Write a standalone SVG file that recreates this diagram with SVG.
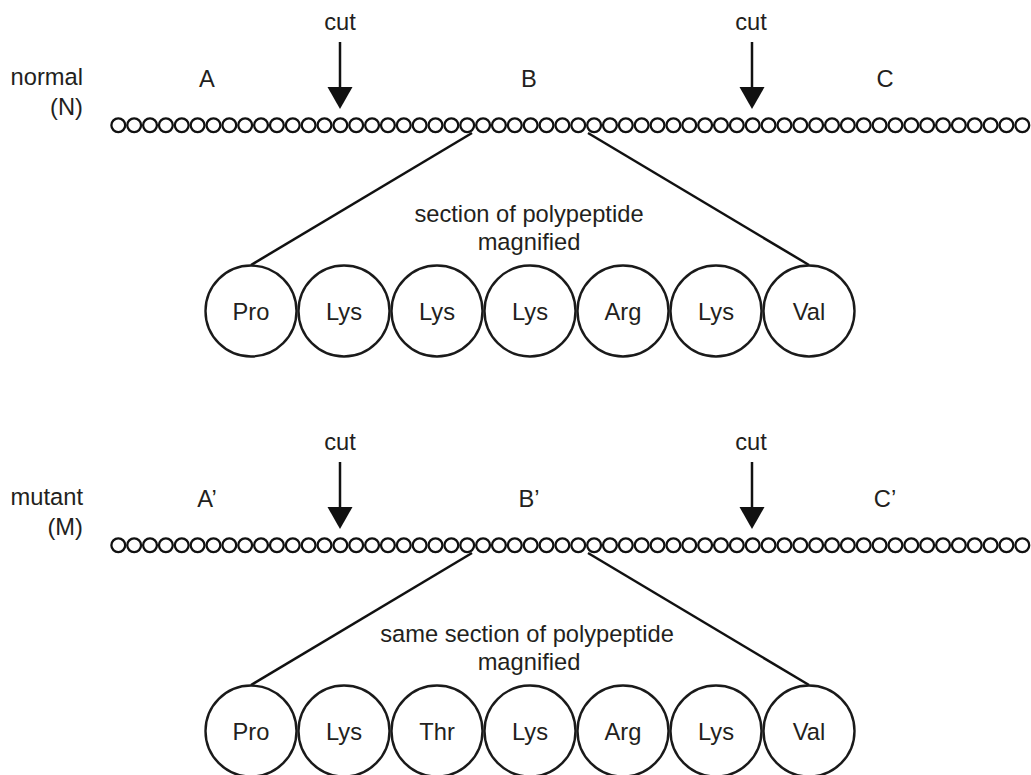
<svg xmlns="http://www.w3.org/2000/svg" xmlns:xlink="http://www.w3.org/1999/xlink" width="1031" height="775" viewBox="0 0 1031 775">
<style>
text{font-family:"Liberation Sans",Arial,sans-serif;font-size:23.7px;fill:#231f20}
.m{text-anchor:middle}
.e{text-anchor:end}
.bead{fill:none;stroke:#111;stroke-width:2.3}
.aa{fill:#fff;stroke:#1a1a1a;stroke-width:2.4}
.ln{stroke:#111;stroke-width:2.5;fill:none}
.head{fill:#111}
</style>
<defs>
<circle id="b" r="6.9" class="bead"/>
<g id="chain">
<use xlink:href="#b" x="118.3"/><use xlink:href="#b" x="134.16"/><use xlink:href="#b" x="150.02"/><use xlink:href="#b" x="165.88"/><use xlink:href="#b" x="181.74"/><use xlink:href="#b" x="197.6"/><use xlink:href="#b" x="213.46"/><use xlink:href="#b" x="229.32"/><use xlink:href="#b" x="245.18"/><use xlink:href="#b" x="261.04"/>
<use xlink:href="#b" x="276.9"/><use xlink:href="#b" x="292.76"/><use xlink:href="#b" x="308.62"/><use xlink:href="#b" x="324.48"/><use xlink:href="#b" x="340.34"/><use xlink:href="#b" x="356.2"/><use xlink:href="#b" x="372.06"/><use xlink:href="#b" x="387.92"/><use xlink:href="#b" x="403.78"/><use xlink:href="#b" x="419.64"/>
<use xlink:href="#b" x="435.5"/><use xlink:href="#b" x="451.36"/><use xlink:href="#b" x="467.22"/><use xlink:href="#b" x="483.08"/><use xlink:href="#b" x="498.94"/><use xlink:href="#b" x="514.8"/><use xlink:href="#b" x="530.66"/><use xlink:href="#b" x="546.52"/><use xlink:href="#b" x="562.38"/><use xlink:href="#b" x="578.24"/>
<use xlink:href="#b" x="594.1"/><use xlink:href="#b" x="609.96"/><use xlink:href="#b" x="625.82"/><use xlink:href="#b" x="641.68"/><use xlink:href="#b" x="657.54"/><use xlink:href="#b" x="673.4"/><use xlink:href="#b" x="689.26"/><use xlink:href="#b" x="705.12"/><use xlink:href="#b" x="720.98"/><use xlink:href="#b" x="736.84"/>
<use xlink:href="#b" x="752.7"/><use xlink:href="#b" x="768.56"/><use xlink:href="#b" x="784.42"/><use xlink:href="#b" x="800.28"/><use xlink:href="#b" x="816.14"/><use xlink:href="#b" x="832"/><use xlink:href="#b" x="847.86"/><use xlink:href="#b" x="863.72"/><use xlink:href="#b" x="879.58"/><use xlink:href="#b" x="895.44"/>
<use xlink:href="#b" x="911.3"/><use xlink:href="#b" x="927.16"/><use xlink:href="#b" x="943.02"/><use xlink:href="#b" x="958.88"/><use xlink:href="#b" x="974.74"/><use xlink:href="#b" x="990.6"/><use xlink:href="#b" x="1006.46"/><use xlink:href="#b" x="1022.32"/>
</g>
</defs>

<!-- NORMAL -->
<g id="normal-label"><text class="e" x="83" y="85">normal</text><text class="e" x="83" y="115">(N)</text></g>
<g id="normal-chain"><use xlink:href="#chain" y="125.3"/></g>
<g id="normal-regions"><text class="m" x="207" y="87">A</text><text class="m" x="529" y="87">B</text><text class="m" x="885" y="87">C</text></g>
<g id="normal-cut1"><text class="m" x="340" y="30">cut</text><line class="ln" x1="340" y1="42" x2="340" y2="90"/><polygon class="head" points="327.5,87 352.5,87 340,109"/></g>
<g id="normal-cut2"><text class="m" x="751" y="30">cut</text><line class="ln" x1="752" y1="42" x2="752" y2="90"/><polygon class="head" points="739.5,87 764.5,87 752,109"/></g>
<g id="normal-connectors"><line class="ln" x1="472" y1="133" x2="251" y2="265"/><line class="ln" x1="588" y1="133" x2="809" y2="265"/></g>
<g id="normal-caption"><text class="m" x="529" y="222">section of polypeptide</text><text class="m" x="529" y="250">magnified</text></g>
<g id="n-pro"><circle class="aa" cx="251" cy="311" r="45.5"/><text class="m" x="251" y="319.5">Pro</text></g>
<g id="n-lys1"><circle class="aa" cx="344" cy="311" r="45.5"/><text class="m" x="344" y="319.5">Lys</text></g>
<g id="n-lys2"><circle class="aa" cx="437" cy="311" r="45.5"/><text class="m" x="437" y="319.5">Lys</text></g>
<g id="n-lys3"><circle class="aa" cx="530" cy="311" r="45.5"/><text class="m" x="530" y="319.5">Lys</text></g>
<g id="n-arg"><circle class="aa" cx="623" cy="311" r="45.5"/><text class="m" x="623" y="319.5">Arg</text></g>
<g id="n-lys4"><circle class="aa" cx="716" cy="311" r="45.5"/><text class="m" x="716" y="319.5">Lys</text></g>
<g id="n-val"><circle class="aa" cx="809" cy="311" r="45.5"/><text class="m" x="809" y="319.5">Val</text></g>

<!-- MUTANT -->
<g id="mutant-label"><text class="e" x="83" y="505">mutant</text><text class="e" x="83" y="535">(M)</text></g>
<g id="mutant-chain"><use xlink:href="#chain" y="545.3"/></g>
<g id="mutant-regions"><text class="m" x="207" y="507">A’</text><text class="m" x="529" y="507">B’</text><text class="m" x="885" y="507">C’</text></g>
<g id="mutant-cut1"><text class="m" x="340" y="450">cut</text><line class="ln" x1="340" y1="462" x2="340" y2="510"/><polygon class="head" points="327.5,507 352.5,507 340,529"/></g>
<g id="mutant-cut2"><text class="m" x="751" y="450">cut</text><line class="ln" x1="752" y1="462" x2="752" y2="510"/><polygon class="head" points="739.5,507 764.5,507 752,529"/></g>
<g id="mutant-connectors"><line class="ln" x1="472" y1="553" x2="251" y2="685"/><line class="ln" x1="588" y1="553" x2="809" y2="685"/></g>
<g id="mutant-caption"><text class="m" x="527" y="642">same section of polypeptide</text><text class="m" x="529" y="670">magnified</text></g>
<g id="m-pro"><circle class="aa" cx="251" cy="731" r="45.5"/><text class="m" x="251" y="739.5">Pro</text></g>
<g id="m-lys1"><circle class="aa" cx="344" cy="731" r="45.5"/><text class="m" x="344" y="739.5">Lys</text></g>
<g id="m-thr"><circle class="aa" cx="437" cy="731" r="45.5"/><text class="m" x="437" y="739.5">Thr</text></g>
<g id="m-lys2"><circle class="aa" cx="530" cy="731" r="45.5"/><text class="m" x="530" y="739.5">Lys</text></g>
<g id="m-arg"><circle class="aa" cx="623" cy="731" r="45.5"/><text class="m" x="623" y="739.5">Arg</text></g>
<g id="m-lys3"><circle class="aa" cx="716" cy="731" r="45.5"/><text class="m" x="716" y="739.5">Lys</text></g>
<g id="m-val"><circle class="aa" cx="809" cy="731" r="45.5"/><text class="m" x="809" y="739.5">Val</text></g>
</svg>
